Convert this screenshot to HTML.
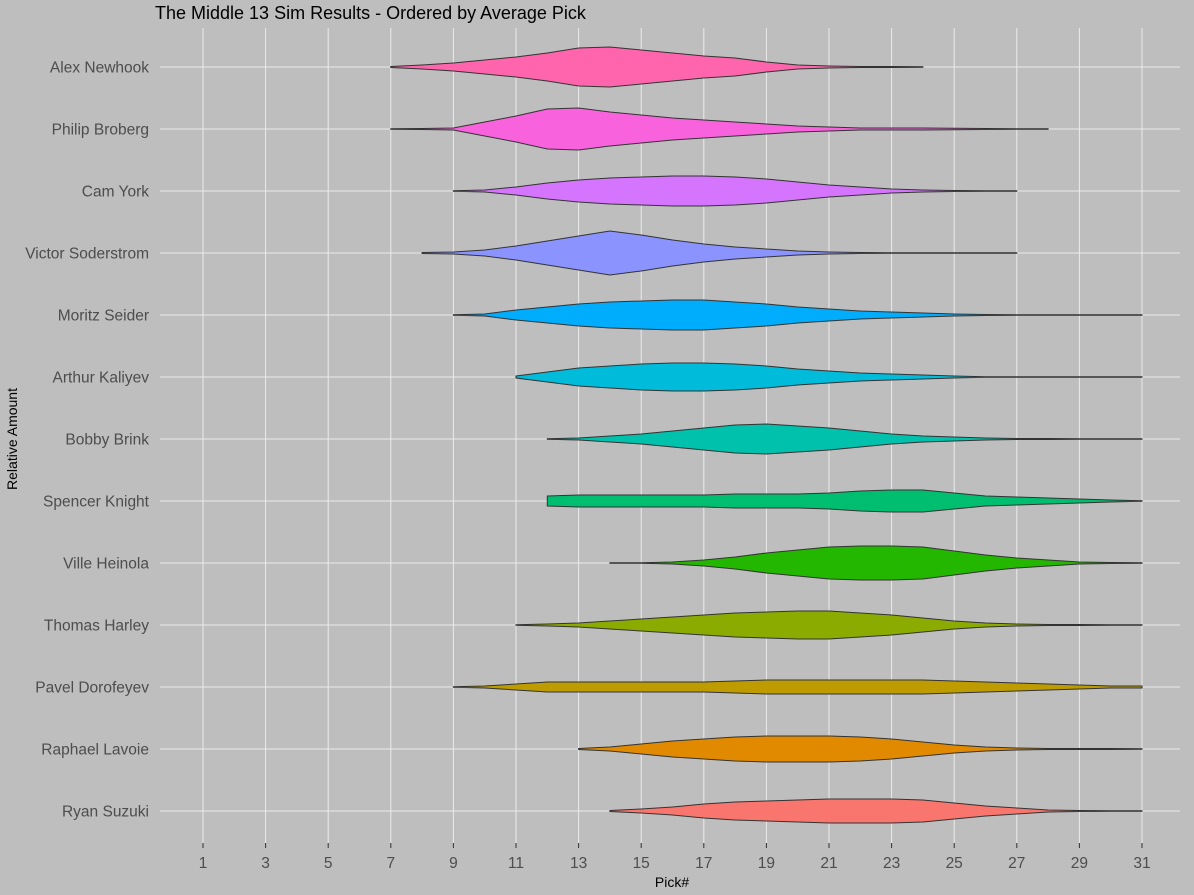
<!DOCTYPE html>
<html><head><meta charset="utf-8"><style>
body{margin:0;background:#bebebe;}
svg{display:block;font-family:"Liberation Sans",sans-serif;}
</style></head><body>
<svg id="chart" width="1194" height="895">
<rect width="1194" height="895" fill="#bebebe"/>
<text x="155" y="19" font-size="18" fill="#000">The Middle 13 Sim Results - Ordered by Average Pick</text>
<text transform="translate(17,439) rotate(-90)" text-anchor="middle" font-size="14" fill="#000">Relative Amount</text>
<text x="672" y="887" text-anchor="middle" font-size="14" fill="#000">Pick#</text>
<g id="grid"></g><g id="violins"></g><g id="labels"></g>
</svg>
<script>
const players=["Alex Newhook","Philip Broberg","Cam York","Victor Soderstrom","Moritz Seider","Arthur Kaliyev","Bobby Brink","Spencer Knight","Ville Heinola","Thomas Harley","Pavel Dorofeyev","Raphael Lavoie","Ryan Suzuki"];
const colors=["#FF65AC","#F962DD","#D575FE","#8B93FF","#00ACFC","#00BBDA","#00C1AB","#00BE70","#24B700","#8CAB00","#BE9C00","#E18A00","#F8766D"];
const startPick=[7,7,9,8,9,11,12,12,14,11,9,13,14];
const widths=[
[0.5,2,4,7,10,14,19,20,17,14,11,9,5,2,1,0.5,0.5,0.3],
[0.3,0.5,1,7,13,20,21,17,14,11,9,7,5,3,2,1,1,1,0.8,0.5,0.3,0.3],
[0.3,1,4,8,11,13,14,15,15,14,12,9,6,4,2,1,0.5,0.3,0.3],
[0.5,1,3,7,12,17,22,18,13,9,6,4,2,1,0.5,0.3,0.3,0.3,0.3,0.3],
[0.3,1,5,8,11,13,14,15,15,13,11,8,6,4,3,2,1,0.5,0.3,0.3,0.3,0.3,0.3],
[1,5,9,11,13,14,14,13,11,8,6,4,3,2,1,0.3,0.3,0.3,0.3,0.3,0.3],
[0.3,1,3,5,8,11,14,15,13,11,8,5,3,2,1,0.5,0.5,0.3,0.3,0.3],
[5,6,6,6,6,6,7,7,7,8,10,11,11,8,5,4,3,2,1,0.3],
[0.3,0.3,1,3,6,10,13,16,17,17,16,12,8,5,3,1,0.5,0.3],
[0.3,1,2,4,6,8,10,12,13,14,14,12,10,7,4,2,1,0.5,0.5,0.3,0.3],
[0.3,1,3,5,5,5,5,5,5,6,7,7,7,7,7,7,6,5,4,3,2,1,1],
[0.5,2,5,8,10,12,13,13,13,12,10,7,4,2,1,0.5,0.5,0.5,0.3],
[0.5,2,4,7,9,10,11,12,12,12,11,8,5,3,1,0.5,0.3,0.3]
];
const xTicks=[1,3,5,7,9,11,13,15,17,19,21,23,25,27,29,31];
const NS="http://www.w3.org/2000/svg";
function xs(p){return 203+(p-1)*(1142-203)/30;}
function ys(i){return 67+i*62;}
const grid=document.getElementById('grid'),vg=document.getElementById('violins'),lg=document.getElementById('labels');
function mk(tag,attrs,parent){const e=document.createElementNS(NS,tag);for(const k in attrs)e.setAttribute(k,attrs[k]);parent.appendChild(e);return e;}
for(let p=1;p<=31;p+=2){
  const l=mk('line',{x1:xs(p),x2:xs(p),y1:28,y2:843,stroke:'#ebebeb','stroke-width':1},grid);
  
  
}
xTicks.forEach(t=>{
  const tk=mk('line',{x1:xs(t),x2:xs(t),y1:843,y2:848,stroke:'#333'},grid);
  
  
  const tx=mk('text',{x:xs(t),y:868,'text-anchor':'middle','font-size':15.5,fill:'#4d4d4d'},lg);
  tx.textContent=t;
  
  
});
players.forEach((name,i)=>{
  const y=ys(i);
  const gl=mk('line',{x1:160,x2:1180,y1:y,y2:y,stroke:'#ebebeb'},grid);
  
  
  const w=widths[i],s=startPick[i];
  let top=[],bot=[];
  w.forEach((v,j)=>{const x=xs(s+j);top.push(x+','+(y-v));bot.unshift(x+','+(y+v));});
  const poly=mk('polygon',{points:top.concat(bot).join(' '),fill:colors[i],stroke:'#333','stroke-width':1},vg);
  
  
  const tx=mk('text',{x:149,y:y+5.5,'text-anchor':'end','font-size':15.5,fill:'#4d4d4d'},lg);
  tx.textContent=name;
  
  
});
</script>
</body></html>
